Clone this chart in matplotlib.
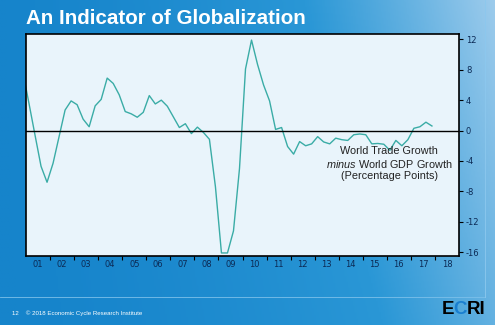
import numpy as np
import matplotlib.pyplot as plt
from matplotlib.colors import LinearSegmentedColormap

plt.rcParams['mathtext.fontset'] = 'custom'
plt.rcParams['mathtext.rm'] = 'Liberation Sans'
plt.rcParams['mathtext.it'] = 'Liberation Sans:italic'

# quarterly data, 2000 Q4 .. 2017 Q4, plotted at mid-quarter
start_year = 2000.875
trade_minus_gdp = [7.6,
    3.55, -0.6, -4.7, -6.8, -4.3, -0.8, 2.7, 3.9, 3.4, 1.5, 0.5, 3.25,
    4.1, 6.9, 6.2, 4.7, 2.5, 2.2, 1.75, 2.4, 4.6, 3.5, 4.0, 3.2,
    1.8, 0.4, 0.9, -0.4, 0.45, -0.25, -1.15, -7.4, -16.1, -16.1, -13.2, -5.0,
    8.1, 11.9, 8.7, 6.0, 3.9, 0.15, 0.4, -2.1, -3.1, -1.45, -2.0, -1.75,
    -0.8, -1.5, -1.75, -1.0, -1.2, -1.3, -0.55, -0.45, -0.55, -1.75, -1.7, -1.8,
    -2.6, -1.3, -2.0, -1.2, 0.3, 0.5, 1.1, 0.6]
year_labels = ['01', '02', '03', '04', '05', '06', '07', '08', '09',
               '10', '11', '12', '13', '14', '15', '16', '17', '18']
y_ticks = [-16, -12, -8, -4, 0, 4, 8, 12]

W, H = 495, 325
fig = plt.figure(figsize=(W / 100, H / 100), dpi=100)

# slide background: blue gradient
bg = fig.add_axes([0, 0, 1, 1])
gx = np.linspace(0, 1, 300)
gy = np.linspace(0, 1, 200)
GX, GY = np.meshgrid(gx, gy)
grad = 0.75 * GX ** 1.6 + 0.25 * GY * GX
bg_cmap = LinearSegmentedColormap.from_list('slide', ['#1684cb', '#2a97d6', '#9ccbec'])
bg.imshow(grad, cmap=bg_cmap, aspect='auto', extent=[0, 1, 0, 1], origin='lower', vmin=0, vmax=1)
bg.plot([0, 485 / W], [1 - 297 / H] * 2, color='#7cc0ea', linewidth=0.6)
bg.plot([485 / W] * 2, [1 - 297 / H, 1], color='#8cc8ee', linewidth=0.6)
bg.set_xlim(0, 1)
bg.set_ylim(0, 1)
bg.axis('off')

fig.text(26 / W, 1 - 18 / H, 'An Indicator of Globalization', color='white',
         fontsize=14.8, fontweight='bold', family='Liberation Sans', va='center', ha='left')
fig.text(12 / W, 1 - 313 / H, '12    \u00a9 2018 Economic Cycle Research Institute', color='white',
         fontsize=4.4, family='Liberation Sans', va='center', ha='left')

# ECRI logo, letters placed one after another
renderer = fig.canvas.get_renderer()
lx = 442
for part, col in [('E', 'black'), ('C', '#1a7fd0'), ('RI', 'black')]:
    t = fig.text(lx / W, 1 - 310 / H, part, color=col, fontsize=13.5, fontweight='bold',
                 family='Liberation Sans', va='center', ha='left')
    lx += t.get_window_extent(renderer).width - 0.8

ax = fig.add_axes([26 / W, 1 - 256 / H, (459 - 26) / W, (256 - 34) / H])
ax.set_facecolor('#e9f4fb')
x = start_year + 0.25 * np.arange(len(trade_minus_gdp))
ax.plot(x, trade_minus_gdp, color='#3aaca6', linewidth=1.0, clip_on=True)
ax.axhline(0, color='black', linewidth=1.0)

ax.set_xlim(2001, 2019)
ax.set_ylim(-16.5, 12.7)
ax.set_xticks(np.arange(2002, 2019))
ax.set_xticklabels([])
ax.set_xticks(np.arange(2001, 2019) + 0.5, minor=True)
ax.set_xticklabels(year_labels, minor=True)
ax.tick_params(axis='x', which='major', direction='out', length=3, width=0.8, color='black')
ax.tick_params(axis='x', which='minor', length=0, pad=3, labelsize=6, labelcolor='#0c2a55')
ax.yaxis.tick_right()
ax.set_yticks(y_ticks)
ax.set_yticklabels([str(v) for v in y_ticks])
ax.tick_params(axis='y', direction='out', length=3, width=0.8, color='black', pad=2,
               labelsize=6, labelcolor='#0c2a55')
for s in ax.spines.values():
    s.set_color('black')
    s.set_linewidth(1.2)

ax.text(2016.1, -2.7, 'World Trade Growth', ha='center', va='center', fontsize=7.8,
        family='Liberation Sans', color='#222222')
ax.text(2016.1, -4.35, r'$\it{minus}$ World GDP Growth', ha='center', va='center', fontsize=7.8,
        family='Liberation Sans', color='#222222')
ax.text(2016.1, -5.95, '(Percentage Points)', ha='center', va='center', fontsize=7.8,
        family='Liberation Sans', color='#222222')

plt.savefig('out.png', dpi=100)
plt.close()
